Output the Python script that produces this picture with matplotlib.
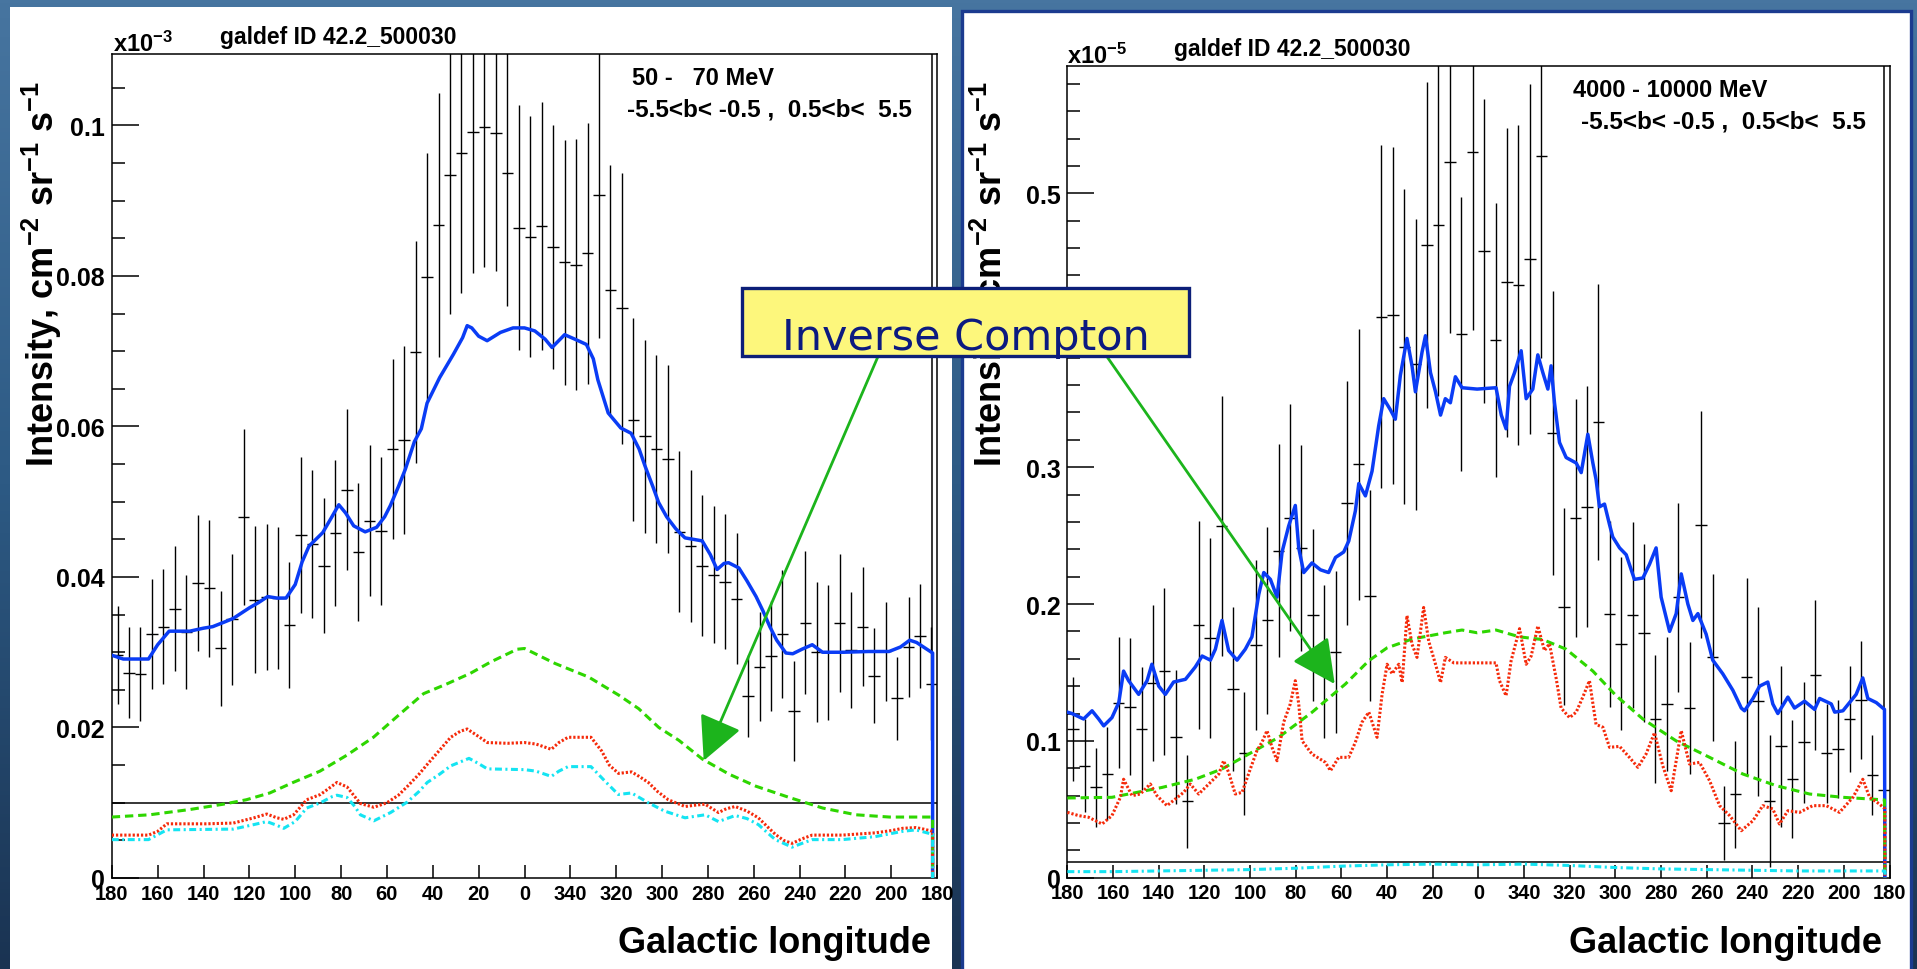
import numpy as np
import matplotlib
matplotlib.use("Agg")
import matplotlib.pyplot as plt
from matplotlib import font_manager
from matplotlib.colors import LinearSegmentedColormap
from matplotlib.patches import Rectangle, FancyArrowPatch
from matplotlib.ticker import MultipleLocator

W, H = 1917, 970

# 5 degree longitude bins, l > 180 kept as l - 360 so the axis runs 180 -> 0 -> -180
lon_bins = np.arange(177.5, -180.0, -5.0)
lon_ticks = np.arange(180, -181, -20)

# data, 50-70 MeV (x1e-3)
low_flux = [0.0296, 0.0273, 0.0271, 0.0324, 0.0334, 0.0358, 0.0327, 0.0392, 0.0385, 0.0305,
            0.0344, 0.0480, 0.0370, 0.0373, 0.0372, 0.0336, 0.0456, 0.0444, 0.0415, 0.0458,
            0.0516, 0.0433, 0.0475, 0.0461, 0.0570, 0.0582, 0.0699, 0.0798, 0.0868, 0.0934,
            0.0963, 0.0992, 0.0998, 0.0990, 0.0937, 0.0864, 0.0852, 0.0866, 0.0839, 0.0818,
            0.0815, 0.0830, 0.0908, 0.0781, 0.0757, 0.0609, 0.0587, 0.0570, 0.0557, 0.0460,
            0.0441, 0.0415, 0.0403, 0.0394, 0.0371, 0.0242, 0.0281, 0.0295, 0.0324, 0.0222,
            0.0339, 0.0300, 0.0300, 0.0339, 0.0303, 0.0334, 0.0269, 0.0301, 0.0239, 0.0307,
            0.0322, 0.0258]
low_err = [0.0065, 0.0060, 0.0062, 0.0073, 0.0076, 0.0083, 0.0076, 0.0090, 0.0091, 0.0077,
           0.0087, 0.0117, 0.0098, 0.0097, 0.0094, 0.0084, 0.0104, 0.0098, 0.0090, 0.0097,
           0.0107, 0.0092, 0.0100, 0.0098, 0.0120, 0.0125, 0.0147, 0.0165, 0.0175, 0.0185,
           0.0186, 0.0188, 0.0186, 0.0184, 0.0177, 0.0163, 0.0160, 0.0165, 0.0162, 0.0163,
           0.0167, 0.0173, 0.0190, 0.0167, 0.0180, 0.0135, 0.0128, 0.0125, 0.0125, 0.0107,
           0.0101, 0.0094, 0.0091, 0.0090, 0.0087, 0.0055, 0.0072, 0.0073, 0.0085, 0.0066,
           0.0095, 0.0093, 0.0090, 0.0092, 0.0077, 0.0079, 0.0063, 0.0066, 0.0055, 0.0066,
           0.0069, 0.0075]

# data, 4000-10000 MeV (x1e-5)
high_flux = [0.109, 0.082, 0.066, 0.076, 0.128, 0.125, 0.109, 0.142, 0.151, 0.103,
             0.056, 0.185, 0.175, 0.257, 0.138, 0.091, 0.170, 0.188, 0.239, 0.263,
             0.241, 0.192, 0.158, 0.165, 0.274, 0.302, 0.206, 0.410, 0.411, 0.388,
             0.375, 0.462, 0.477, 0.523, 0.397, 0.530, 0.458, 0.393, 0.435, 0.433,
             0.452, 0.527, 0.325, 0.198, 0.263, 0.271, 0.333, 0.193, 0.171, 0.192,
             0.179, 0.116, 0.127, 0.205, 0.124, 0.258, 0.161, 0.040, 0.061, 0.147,
             0.129, 0.056, 0.096, 0.072, 0.099, 0.148, 0.091, 0.094, 0.116, 0.130,
             0.075, 0.064]
high_err = [0.038, 0.034, 0.029, 0.034, 0.048, 0.050, 0.045, 0.057, 0.061, 0.049,
            0.034, 0.076, 0.073, 0.095, 0.060, 0.045, 0.062, 0.068, 0.078, 0.083,
            0.075, 0.063, 0.056, 0.059, 0.089, 0.099, 0.077, 0.125, 0.123, 0.115,
            0.106, 0.119, 0.125, 0.125, 0.100, 0.130, 0.111, 0.100, 0.113, 0.117,
            0.128, 0.147, 0.104, 0.072, 0.087, 0.088, 0.101, 0.068, 0.063, 0.068,
            0.065, 0.047, 0.049, 0.069, 0.048, 0.083, 0.061, 0.027, 0.039, 0.072,
            0.069, 0.048, 0.059, 0.043, 0.044, 0.055, 0.036, 0.036, 0.039, 0.043,
            0.029, 0.030]

# model, 50-70 MeV
low_total_lon = [180, 175, 170, 164, 160, 155, 150, 146, 140, 136, 131, 127, 120, 116, 112, 108,
                 104, 100, 97, 94, 88, 84, 81, 78, 74.5, 69.5, 64.5, 61, 58.5, 55, 52, 48, 45,
                 42.5, 37, 31, 27, 25, 23, 20, 16.3, 10.5, 5, 0, -4.5, -9, -12, -17.5, -22, -27,
                 -30, -32, -36.5, -42, -46.5, -50, -52.5, -56, -58.5, -62, -66, -70, -77.5, -81,
                 -84, -87, -89, -93.5, -97, -101, -104, -107, -110, -114, -117, -121, -125.5,
                 -130, -139, -150, -159, -164, -168, -171, -174, -178, -178]
low_total = [0.0296, 0.0291, 0.0291, 0.0291, 0.0310, 0.0328, 0.0328, 0.0328, 0.0332, 0.0334,
             0.0340, 0.0345, 0.0359, 0.0366, 0.0374, 0.0372, 0.0372, 0.0390, 0.0420, 0.0441,
             0.0459, 0.0480, 0.0496, 0.0485, 0.0468, 0.0460, 0.0466, 0.0480, 0.0495, 0.0520,
             0.0543, 0.0580, 0.0597, 0.0631, 0.0665, 0.0696, 0.0718, 0.0734, 0.0731, 0.0720,
             0.0714, 0.0725, 0.0731, 0.0731, 0.0727, 0.0716, 0.0705, 0.0722, 0.0716, 0.0709,
             0.0690, 0.0662, 0.0618, 0.0598, 0.0591, 0.0570, 0.0548, 0.0520, 0.0499, 0.0480,
             0.0464, 0.0452, 0.0448, 0.0430, 0.0410, 0.0418, 0.0419, 0.0412, 0.0395, 0.0374,
             0.0355, 0.0334, 0.0316, 0.0299, 0.0298, 0.0304, 0.0310, 0.0300, 0.0300, 0.0301,
             0.0301, 0.0307, 0.0316, 0.0313, 0.0307, 0.0299, 0.0]

low_ic_lon = [180, 163.5, 146, 131.5, 121.3, 111.1, 100.9, 89.2, 77.6, 65.9, 54.3, 44, 33.8,
              23.6, 14.8, 3.2, 0, -13.4, -28, -41.1, -49.8, -58.6, -67.3, -77.6, -89.2, -100.9,
              -115.5, -130, -144.6, -159.2, -178, -178]
low_ic = [0.0081, 0.0084, 0.0091, 0.0098, 0.0104, 0.0113, 0.0127, 0.0142, 0.0163, 0.0187,
          0.0218, 0.0245, 0.0258, 0.0272, 0.0287, 0.0304, 0.0305, 0.0285, 0.0267, 0.0243,
          0.0225, 0.0200, 0.0183, 0.0158, 0.0138, 0.0122, 0.0107, 0.0093, 0.0084, 0.0081,
          0.0081, 0.0]

low_pi0_lon = [180, 164, 160, 156, 139, 127, 118, 112.4, 108, 105, 100.7, 95, 89, 84, 81.8, 77.4,
               74, 71.6, 65.7, 60, 55, 51, 46, 42.4, 37, 32.2, 28, 25, 21, 16.2, 7.4, 0, -5,
               -11.7, -15, -19, -29, -33.6, -37, -41, -46.7, -50, -54, -58, -62.7, -70, -75,
               -78.8, -84.6, -88, -91.9, -97, -102, -106, -109.4, -113, -116.7, -121, -125.5,
               -138.6, -153, -160, -164.9, -170.7, -174, -178, -178]
low_pi0 = [0.0057, 0.0057, 0.0062, 0.0072, 0.0072, 0.0073, 0.0080, 0.0085, 0.0080, 0.0078,
           0.0084, 0.0104, 0.0111, 0.0122, 0.0127, 0.0121, 0.0108, 0.0099, 0.0094, 0.0100,
           0.0110, 0.0122, 0.0138, 0.0151, 0.0170, 0.0187, 0.0195, 0.0198, 0.0190, 0.0180,
           0.0179, 0.0180, 0.0178, 0.0171, 0.0180, 0.0187, 0.0187, 0.0169, 0.0150, 0.0139,
           0.0141, 0.0135, 0.0127, 0.0115, 0.0104, 0.0095, 0.0097, 0.0098, 0.0087, 0.0092,
           0.0095, 0.0089, 0.0080, 0.0068, 0.0058, 0.0050, 0.0046, 0.0052, 0.0057, 0.0057,
           0.0060, 0.0063, 0.0066, 0.0067, 0.0065, 0.0062, 0.0]

low_brems_lon = [180, 164, 156, 127, 118, 112.4, 108, 105, 100, 95, 89, 84, 81.8, 77.4, 74, 71.6,
                 65.7, 58.4, 51.1, 46, 42.4, 37, 32.2, 24.2, 20, 16.2, 0, -5, -11.7, -15, -19,
                 -29, -35, -40.9, -46.7, -54, -61, -70, -78.8, -84.6, -91.9, -97, -102, -106,
                 -109.4, -116.7, -121, -125.5, -138.6, -153, -164.9, -170.7, -178, -178]
low_brems = [0.0051, 0.0051, 0.0064, 0.0065, 0.0071, 0.0075, 0.0070, 0.0066, 0.0075, 0.0093,
             0.0100, 0.0108, 0.0110, 0.0107, 0.0095, 0.0084, 0.0076, 0.0087, 0.0101, 0.0115,
             0.0127, 0.0138, 0.0149, 0.0159, 0.0152, 0.0145, 0.0144, 0.0142, 0.0135, 0.0142,
             0.0148, 0.0148, 0.0129, 0.0111, 0.0113, 0.0100, 0.0089, 0.0080, 0.0084, 0.0075,
             0.0083, 0.0079, 0.0071, 0.0060, 0.0051, 0.0041, 0.0046, 0.0051, 0.0051, 0.0055,
             0.0062, 0.0064, 0.0058, 0.0]

low_iso = 0.0100

# model, 4000-10000 MeV
high_total_lon = [180, 178, 172.9, 169.2, 166.3, 164.1, 160.5, 157.5, 155.4, 153.2, 148.8, 145.1,
                  143, 140, 137.1, 133.5, 128.3, 124, 121, 117.4, 115.2, 112.3, 109.4, 105.7,
                  102.1, 99.2, 96.2, 94, 91.1, 88.2, 86, 83.1, 80.2, 78.7, 76.5, 72.9, 69.2,
                  65.6, 62.6, 59, 56.8, 53.9, 52.4, 49.5, 46.6, 43.7, 41.5, 38.6, 36.4, 34.2,
                  31.3, 29.1, 27.6, 24.7, 23.2, 21, 18.8, 16.6, 14.5, 12.3, 10.1, 7.2, 0.6, -7.7,
                  -10, -12.1, -13.6, -15.8, -18.7, -20.9, -23.8, -26, -28.2, -30.4, -31.8, -33.3,
                  -35.5, -38.4, -42.8, -45, -47.9, -50.1, -51.5, -53, -55.2, -57.4, -58.8, -61.8,
                  -64.7, -68.3, -72, -74.9, -77.8, -80, -83.7, -86.6, -88.8, -91.7, -93.9, -96.1,
                  -99.7, -102.6, -107, -111.4, -115.1, -116.5, -120.2, -123.1, -126.7, -128.9,
                  -131.1, -135.5, -138.4, -142.8, -147.2, -149.4, -154.5, -156, -159.6, -165.4,
                  -168.3, -170.5, -174.2, -177.8, -178]
high_total = [0.121, 0.120, 0.116, 0.122, 0.116, 0.111, 0.117, 0.128, 0.151, 0.144, 0.134, 0.144,
              0.156, 0.140, 0.134, 0.143, 0.145, 0.154, 0.162, 0.159, 0.167, 0.188, 0.166, 0.159,
              0.167, 0.176, 0.207, 0.223, 0.218, 0.205, 0.238, 0.257, 0.272, 0.241, 0.223, 0.230,
              0.225, 0.223, 0.234, 0.238, 0.246, 0.268, 0.288, 0.279, 0.297, 0.330, 0.350, 0.342,
              0.335, 0.367, 0.394, 0.374, 0.355, 0.384, 0.396, 0.369, 0.355, 0.338, 0.350, 0.347,
              0.366, 0.358, 0.357, 0.358, 0.338, 0.328, 0.359, 0.369, 0.385, 0.350, 0.357, 0.382,
              0.369, 0.357, 0.374, 0.347, 0.318, 0.307, 0.303, 0.296, 0.324, 0.303, 0.291, 0.271,
              0.273, 0.258, 0.249, 0.241, 0.236, 0.218, 0.219, 0.229, 0.241, 0.205, 0.180, 0.193,
              0.222, 0.200, 0.188, 0.193, 0.178, 0.159, 0.149, 0.137, 0.124, 0.122, 0.131, 0.140,
              0.143, 0.127, 0.120, 0.132, 0.124, 0.129, 0.123, 0.131, 0.127, 0.121, 0.122, 0.134,
              0.146, 0.131, 0.128, 0.123, 0.0]

high_ic_lon = [180, 160.5, 138.6, 124, 112.3, 100.6, 87.5, 72.9, 58.3, 48, 40, 29.1, 14.5, 7.2,
               0.6, -7.7, -18, -28.2, -38.4, -50.1, -60.3, -72, -86.6, -101.2, -115.8, -130.4,
               -145, -159.6, -177.8, -178]
high_ic = [0.0583, 0.0588, 0.0660, 0.0720, 0.0795, 0.0904, 0.1026, 0.1209, 0.1415, 0.1586,
           0.1680, 0.1744, 0.1790, 0.1810, 0.1790, 0.1810, 0.1760, 0.1740, 0.1670, 0.1510,
           0.1330, 0.1160, 0.1000, 0.0880, 0.0758, 0.0673, 0.0612, 0.0588, 0.0569, 0.0]

high_pi0_lon = [180, 175, 170.7, 164.8, 160.5, 156.8, 155.4, 151.7, 148.1, 143.7, 140.8, 136.4,
                132.7, 129.1, 126.2, 122.5, 118.1, 113.7, 111.6, 109.4, 106.5, 103.5, 99.9, 97,
                94.8, 92.6, 90.4, 88.2, 85.3, 82.4, 80.2, 78.7, 77.2, 72.9, 67, 64.8, 61.2, 56.8,
                53.9, 51, 48, 44.4, 42.2, 40, 37.8, 34.9, 33.4, 31.3, 29.1, 26.9, 24, 21.8, 18.8,
                16.6, 14.5, 10.8, 5.7, 0.6, -7.7, -9.2, -12.1, -14.3, -18, -20.9, -23.1, -26,
                -28.9, -31.1, -34, -36.2, -39.9, -42.8, -45.7, -48.6, -51.5, -54.5, -57.4, -61.8,
                -66.1, -69.8, -73.4, -77.1, -80.7, -84.4, -88.8, -92.4, -96.8, -101.2, -105.6,
                -110, -115.1, -120.2, -124.5, -128.9, -131.8, -135.5, -140.6, -146.4, -152.3,
                -158.1, -164, -168.3, -171.3, -175.6, -178, -178]
high_pi0 = [0.0478, 0.0454, 0.0442, 0.0393, 0.0454, 0.0588, 0.0720, 0.0600, 0.0612, 0.0685,
            0.0600, 0.0527, 0.0576, 0.0624, 0.0685, 0.0612, 0.0685, 0.0758, 0.0855, 0.0770,
            0.0612, 0.0624, 0.0795, 0.0929, 0.0990, 0.1075, 0.0953, 0.0855, 0.1136, 0.1270,
            0.1440, 0.1270, 0.1000, 0.0904, 0.0843, 0.0782, 0.0880, 0.0880, 0.0990, 0.1136,
            0.1210, 0.1026, 0.1340, 0.1560, 0.1490, 0.1560, 0.1427, 0.1915, 0.1707, 0.1610,
            0.1975, 0.1730, 0.1560, 0.1427, 0.1610, 0.1570, 0.1570, 0.1570, 0.1570, 0.1440,
            0.1330, 0.1585, 0.1820, 0.1560, 0.1620, 0.1840, 0.1660, 0.1710, 0.1460, 0.1240,
            0.1170, 0.1210, 0.1320, 0.1440, 0.1120, 0.1100, 0.0953, 0.0960, 0.0880, 0.0807,
            0.0904, 0.1060, 0.0819, 0.0636, 0.1075, 0.0831, 0.0843, 0.0710, 0.0527, 0.0454,
            0.0344, 0.0417, 0.0527, 0.0503, 0.0393, 0.0490, 0.0478, 0.0527, 0.0527, 0.0478,
            0.0588, 0.0720, 0.0588, 0.0539, 0.0503, 0.0]

high_brems_lon = [180, 160, 140, 120, 100, 80, 60, 40, 20, 0, -20, -40, -60, -80, -100, -120,
                  -140, -160, -178, -178]
high_brems = [0.0045, 0.0045, 0.0050, 0.0055, 0.0060, 0.0070, 0.0085, 0.0095, 0.0100, 0.0095,
              0.0100, 0.0090, 0.0075, 0.0065, 0.0060, 0.0055, 0.0050, 0.0050, 0.0050, 0.0]

high_iso = 0.0113

BLUE = "#0a3cf5"
GREEN = "#2ed600"
RED = "#f52a0a"
CYAN = "#14e4f2"
ARROW = "#1cb41c"

names = {f.name for f in font_manager.fontManager.ttflist}
NARROW = "Liberation Sans Narrow" if "Liberation Sans Narrow" in names else "Liberation Sans"

plt.rcParams["font.family"] = ["Liberation Sans", "DejaVu Sans"]
plt.rcParams["mathtext.default"] = "regular"
plt.rcParams["lines.scale_dashes"] = False


def fxy(x, y):
    # figure pixels (from top-left) -> figure fraction
    return x / W, 1 - y / H


def draw_panel(fig, rect, flux, err, models, iso, ymax, ymajor, yminor, ylabels):
    ax = fig.add_axes(rect)
    ax.set_xlim(180, -180)
    ax.set_ylim(0, ymax)

    for lon, val, color, ls in models:
        lw = 2.5 if ls == "-" else 2.2
        ax.plot(lon, val, color=color, lw=lw, linestyle=ls, zorder=3, solid_joinstyle="round")

    ax.axhline(iso, color="black", lw=1.1, zorder=2)
    ax.axvline(-177.6, color="black", lw=1.1, zorder=2)
    ax.errorbar(lon_bins, flux, xerr=2.5, yerr=err, fmt="none", ecolor="black",
                elinewidth=1.0, capsize=0, zorder=2)

    ax.set_xticks(lon_ticks)
    ax.set_xticklabels([str(int(t) % 360) for t in lon_ticks])
    ax.set_yticks(np.arange(0, ymax, ymajor))
    ax.set_yticklabels(ylabels)
    ax.yaxis.set_minor_locator(MultipleLocator(yminor))

    ax.tick_params(axis="x", direction="in", length=9.5, width=1.1, pad=4, labelsize=14.5)
    ax.tick_params(axis="y", which="major", direction="in", length=19.5, width=1.1, pad=5,
                   labelsize=18)
    ax.tick_params(axis="y", which="minor", direction="in", length=9.5, width=1.1)
    for lbl in ax.get_xticklabels():
        lbl.set_family(NARROW)
        lbl.set_fontweight("bold")
    for lbl in ax.get_yticklabels():
        lbl.set_fontweight("bold")
    for sp in ax.spines.values():
        sp.set_linewidth(1.1)
    return ax


def main():
    fig = plt.figure(figsize=(W / 100, H / 100), dpi=100)

    # backdrop
    bg = fig.add_axes([0, 0, 1, 1], zorder=-20)
    cmap = LinearSegmentedColormap.from_list("sky", ["#1a3352", "#2d5a84", "#4775a0"])
    bg.imshow(np.linspace(0, 1, 256)[:, None], aspect="auto", cmap=cmap,
              extent=[0, 1, 0, 1], origin="lower")
    bg.axis("off")

    x0, y0 = fxy(10, 970)
    fig.add_artist(Rectangle((x0, y0 - 0.01), 942 / W, 962 / H + 0.01, transform=fig.transFigure,
                             facecolor="white", edgecolor="none", zorder=-10))
    x0, y0 = fxy(962, 970)
    fig.add_artist(Rectangle((x0, y0 - 0.01), 949 / W, 958 / H + 0.01, transform=fig.transFigure,
                             facecolor="white", edgecolor="#1b3b8f", lw=2.4, zorder=-10))

    low_models = [(low_total_lon, low_total, BLUE, "-"),
                  (low_ic_lon, low_ic, GREEN, (0, (6, 3.5))),
                  (low_pi0_lon, low_pi0, RED, (0, (1.6, 1.4))),
                  (low_brems_lon, low_brems, CYAN, (0, (5, 2.5, 1.5, 2.5)))]
    high_models = [(high_total_lon, high_total, BLUE, "-"),
                   (high_ic_lon, high_ic, GREEN, (0, (6, 3.5))),
                   (high_pi0_lon, high_pi0, RED, (0, (1.6, 1.4))),
                   (high_brems_lon, high_brems, CYAN, (0, (5, 2.5, 1.5, 2.5)))]

    draw_panel(fig, [111.8 / W, 91 / H, 825.4 / W, 824 / H], low_flux, low_err, low_models,
               low_iso, 0.1095, 0.02, 0.005, ["0", "0.02", "0.04", "0.06", "0.08", "0.1"])
    draw_panel(fig, [1067.4 / W, 91.2 / H, 822.1 / W, 811.5 / H], high_flux, high_err,
               high_models, high_iso, 0.5928, 0.1, 0.02, ["0", "0.1", "0.2", "0.3", "0.4", "0.5"])

    ylab = "Intensity, cm$^{-2}$ sr$^{-1}$ s$^{-1}$"
    for left, ylx, yly, xlx, sc, title_x, e_x, e_y, b_x, erange in [
            (113, 42, 274, 931, "-3", 220, 632, 85, 627, "50 -   70 MeV"),
            (1067, 990, 274, 1882, "-5", 1174, 1573, 97, 1581, "4000 - 10000 MeV")]:
        dy = 0 if left < 500 else 12
        fig.text(*fxy(left, 52 + dy), "x10$^{%s}$" % sc, fontsize=17, fontweight="bold",
                 ha="left", va="baseline")
        fig.text(*fxy(title_x, 44 + dy), "galdef ID 42.2_500030", fontsize=16.5,
                 fontweight="bold", ha="left", va="baseline")
        fig.text(*fxy(e_x, e_y), erange, fontsize=17, fontweight="bold", ha="left",
                 va="baseline")
        fig.text(*fxy(b_x, e_y + 32), "-5.5<b< -0.5 ,  0.5<b<  5.5", fontsize=17.5,
                 fontweight="bold", ha="left", va="baseline")
        fig.text(*fxy(ylx, yly), ylab, fontsize=26, fontweight="bold", rotation=90,
                 ha="center", va="center")
        fig.text(*fxy(xlx, 953), "Galactic longitude", fontsize=26, fontweight="bold",
                 ha="right", va="baseline")

    # label box and arrows
    bx, by = fxy(742, 357)
    fig.add_artist(Rectangle((bx, by), 447 / W, 68 / H, transform=fig.transFigure,
                             facecolor="#fdf77c", edgecolor="#0c1f78", lw=2.4, zorder=5))
    fig.text(*fxy(966, 350), "Inverse Compton", fontsize=31, color="#0c1a80",
             family="DejaVu Sans", ha="center", va="baseline", zorder=6)
    for start, tip in [((878, 357.5), (703.7, 761.7)), ((1107, 357.7), (1334.7, 685))]:
        fig.add_artist(FancyArrowPatch(fxy(*start), fxy(*tip), transform=fig.transFigure,
                                       arrowstyle="-|>,head_length=0.4,head_width=0.2",
                                       mutation_scale=68, lw=2.0, color=ARROW,
                                       shrinkA=0, shrinkB=0, zorder=4))

    fig.savefig("out.png", dpi=100)


if __name__ == "__main__":
    main()
